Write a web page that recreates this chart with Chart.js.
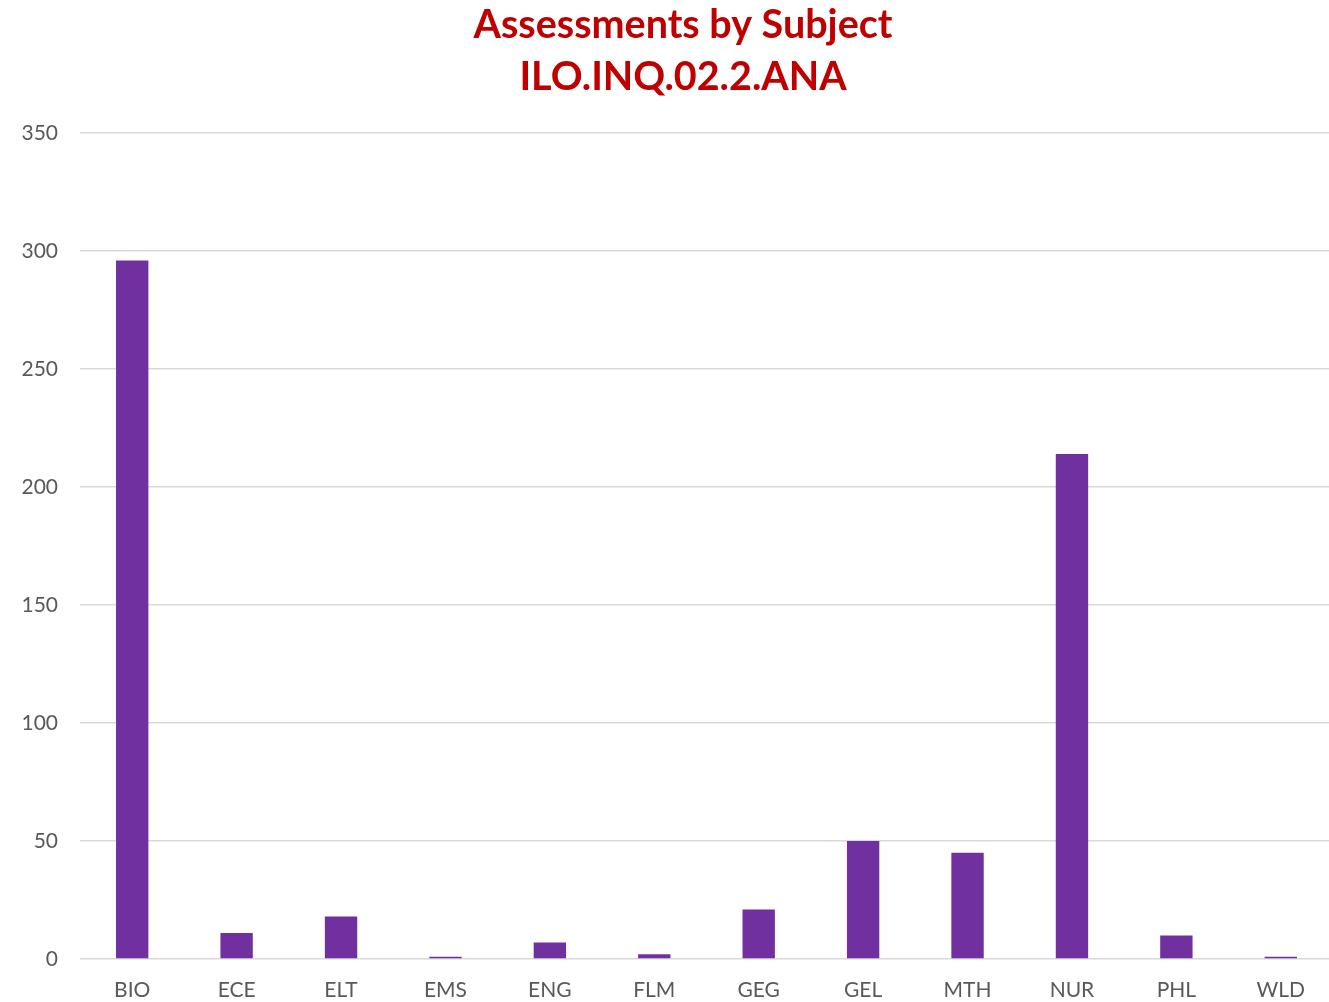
<!DOCTYPE html>
<html>
<head>
<meta charset="utf-8">
<script src="https://cdn.jsdelivr.net/npm/chart.js@4.4.0/dist/chart.umd.min.js"></script>
<style>
  html, body { margin: 0; padding: 0; background: #fff; overflow: hidden; }
  #wrap { width: 1333px; height: 1002px; position: relative; }
</style>
</head>
<body>
<div id="wrap"><canvas id="subjectChart"></canvas></div>
<script>
var subjects = ['BIO', 'ECE', 'ELT', 'EMS', 'ENG', 'FLM', 'GEG', 'GEL', 'MTH', 'NUR', 'PHL', 'WLD'];
var assessments = [296, 11, 18, 1, 7, 2, 21, 50, 45, 214, 10, 1];
var titleLines = ['Assessments by Subject', 'ILO.INQ.02.2.ANA'];

var titlePlugin = {
  id: 'centerTitle',
  afterDraw: function(chart) {
    var ctx = chart.ctx;
    ctx.save();
    ctx.fillStyle = '#C00000';
    ctx.font = 'bold 39.5px Lato, "Open Sans", sans-serif';
    ctx.textAlign = 'center';
    ctx.textBaseline = 'alphabetic';
    ctx.fillText(titleLines[0], 683, 38);
    ctx.fillText(titleLines[1], 683, 90);
    ctx.restore();
  }
};

document.addEventListener('DOMContentLoaded', function(){
  var el = document.getElementById('subjectChart');
  new Chart(el, {
    type: 'bar',
    data: {
      labels: subjects,
      datasets: [{
        data: assessments,
        backgroundColor: '#7030A0',
        barPercentage: 0.31,
        categoryPercentage: 1.0
      }]
    },
    options: {
      responsive: true,
      maintainAspectRatio: false,
      animation: false,
      layout: { padding: { top: 133, right: 0, left: 0, bottom: 0 } },
      plugins: { legend: { display: false }, tooltip: { enabled: false } },
      scales: {
        x: {
          grid: { display: false },
          border: { display: false },
          ticks: { color: '#595959', font: { family: 'Lato, "Open Sans", sans-serif', size: 21 }, padding: 11 },
          afterFit: function(s) { s.height = 43; }
        },
        y: {
          min: 0, max: 350,
          ticks: { stepSize: 50, color: '#595959', font: { family: 'Lato, "Open Sans", sans-serif', size: 21 }, padding: 22 },
          grid: { color: '#d9d9d9', lineWidth: 1.5, drawTicks: false },
          border: { display: false },
          afterFit: function(s) { s.width = 80; }
        }
      }
    },
    plugins: [titlePlugin]
  });
});
</script>
</body>
</html>
